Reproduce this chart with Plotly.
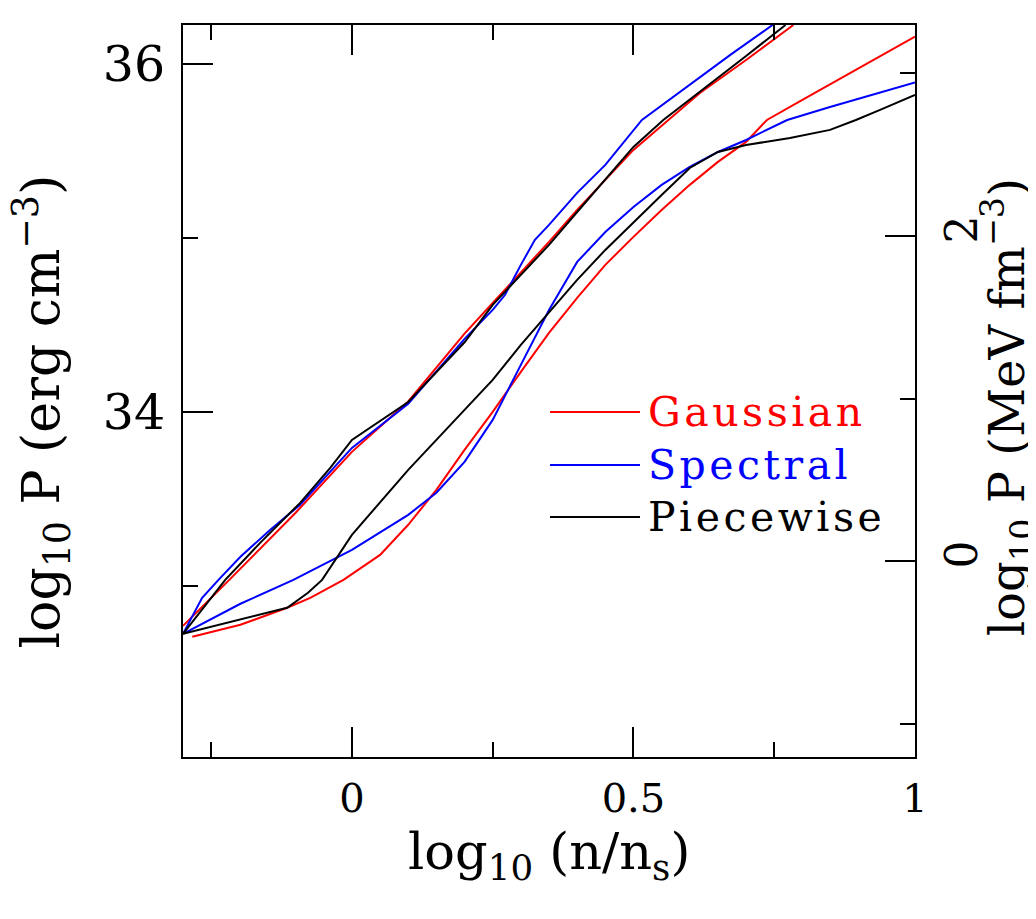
import plotly.graph_objects as go

# ---------------- data (log10 n/ns , log10 P [erg cm^-3]) ----------------
gauss_hi_x = [-0.3, -0.216, -0.1, 0.0, 0.1, 0.2, 0.25, 0.3, 0.35, 0.4, 0.45, 0.5, 0.562, 0.618, 0.7, 0.784]
gauss_hi_y = [32.77, 33.04, 33.42, 33.77, 34.06, 34.45, 34.626, 34.799, 34.977, 35.161, 35.333, 35.506, 35.678, 35.833, 36.023, 36.224]

gauss_lo_x = [-0.2835, -0.198, -0.115, -0.074, -0.015, 0.05, 0.1, 0.15, 0.2, 0.25, 0.3, 0.35, 0.4, 0.45, 0.5, 0.55, 0.6, 0.65, 0.7, 0.737, 0.8, 0.9, 1.0]
gauss_lo_y = [32.707, 32.776, 32.874, 32.931, 33.034, 33.178, 33.351, 33.552, 33.782, 34.0, 34.23, 34.454, 34.655, 34.845, 35.006, 35.161, 35.305, 35.437, 35.552, 35.678, 35.793, 35.977, 36.157]

spec_hi_x = [-0.3, -0.266, -0.237, -0.198, -0.145, -0.092, 0.0, 0.1, 0.2, 0.25, 0.272, 0.3, 0.325, 0.35, 0.4, 0.45, 0.515, 0.6, 0.672, 0.747]
spec_hi_y = [32.724, 32.931, 33.034, 33.167, 33.322, 33.466, 33.793, 34.046, 34.42, 34.586, 34.673, 34.845, 34.989, 35.075, 35.259, 35.42, 35.678, 35.879, 36.052, 36.224]

spec_lo_x = [-0.3, -0.198, -0.104, 0.0, 0.1, 0.15, 0.2, 0.25, 0.3, 0.35, 0.4, 0.45, 0.5, 0.55, 0.6, 0.65, 0.7, 0.773, 0.849, 0.924, 1.0]
spec_lo_y = [32.724, 32.897, 33.034, 33.207, 33.408, 33.535, 33.713, 33.954, 34.27, 34.586, 34.862, 35.034, 35.178, 35.305, 35.408, 35.494, 35.563, 35.678, 35.753, 35.822, 35.893]

piece_hi_x = [-0.3, -0.225, -0.163, -0.092, -0.0385, 0.0, 0.1, 0.2, 0.25, 0.3, 0.35, 0.4, 0.45, 0.5, 0.553, 0.618, 0.7, 0.77]
piece_hi_y = [32.724, 33.034, 33.247, 33.477, 33.678, 33.839, 34.057, 34.40, 34.615, 34.787, 34.96, 35.149, 35.333, 35.523, 35.678, 35.839, 36.046, 36.224]

piece_lo_x = [-0.3, -0.198, -0.115, -0.078, -0.053, 0.0, 0.05, 0.1, 0.15, 0.2, 0.25, 0.3, 0.35, 0.4, 0.45, 0.5, 0.55, 0.6, 0.65, 0.7, 0.778, 0.849, 0.895, 0.938, 1.0]
piece_lo_y = [32.724, 32.805, 32.874, 32.96, 33.034, 33.293, 33.483, 33.667, 33.839, 34.011, 34.184, 34.385, 34.575, 34.759, 34.931, 35.092, 35.247, 35.402, 35.494, 35.534, 35.575, 35.621, 35.678, 35.736, 35.822]

series_names = ["Gaussian", "Spectral", "Piecewise"]
series_colors = ["#ff0000", "#0000ff", "#000000"]

x_tickvals = [0, 0.5, 1]
x_ticktext = ["0", "0.5", "1"]
yl_tickvals = [34, 36]
yl_ticktext = ["34", "36"]
yr_tickvals = [0, 2]
yr_ticktext = ["0", "2"]

X_RANGE = [-0.3, 1.0]
YL_RANGE = [32.016, 36.224]
YR_RANGE = [-1.205, 3.298]

FONT = "DejaVu Serif"

fig = go.Figure()

curves = [
    (gauss_hi_x, gauss_hi_y, 0), (gauss_lo_x, gauss_lo_y, 0),
    (spec_hi_x, spec_hi_y, 1), (spec_lo_x, spec_lo_y, 1),
    (piece_hi_x, piece_hi_y, 2), (piece_lo_x, piece_lo_y, 2),
]
for xs, ys, k in curves:
    fig.add_trace(go.Scatter(x=xs, y=ys, mode="lines", name=series_names[k],
                             line=dict(color=series_colors[k], width=2),
                             showlegend=False, hoverinfo="skip"))

# dummy trace to activate right axis
fig.add_trace(go.Scatter(x=[None], y=[None], yaxis="y2", showlegend=False))

axis_common = dict(ticks="inside", showline=True, linecolor="black", linewidth=2,
                   tickcolor="black", tickwidth=2, showgrid=False, zeroline=False)

fig.update_layout(
    width=1028, height=911,
    margin=dict(l=175, r=121, t=17, b=162),
    paper_bgcolor="white", plot_bgcolor="white",
    showlegend=False,
    xaxis=dict(range=X_RANGE, tickvals=x_tickvals, ticktext=x_ticktext, ticklen=30,
               mirror="ticks", ticklabelstandoff=5,
               tickfont=dict(family=FONT, size=40, color="black"),
               minor=dict(tickvals=[-0.25, 0.25, 0.75], ticklen=15, tickcolor="black",
                          tickwidth=2, ticks="inside", showgrid=False),
               **axis_common),
    yaxis=dict(range=YL_RANGE, tickvals=yl_tickvals, ticktext=yl_ticktext, ticklen=30,
               ticklabelstandoff=6,
               tickfont=dict(family=FONT, size=49, color="black"),
               minor=dict(tickvals=[33, 35], ticklen=15, tickcolor="black",
                          tickwidth=2, ticks="inside", showgrid=False),
               **axis_common),
    yaxis2=dict(range=YR_RANGE, overlaying="y", side="right", anchor="x",
                tickvals=yr_tickvals, ticktext=yr_ticktext, ticklen=30, tickangle=-90,
                ticklabelstandoff=7,
                tickfont=dict(family=FONT, size=44, color="black"),
                minor=dict(tickvals=[-1, 1, 3], ticklen=15, tickcolor="black",
                           tickwidth=2, ticks="inside", showgrid=False),
                **axis_common),
)

fig.add_annotation(text="log<sub>10</sub> (n/n<sub>s</sub>)", xref="paper", yref="paper",
                   x=0.5, y=-0.134, showarrow=False,
                   font=dict(family=FONT, size=51, color="black"),
                   xanchor="center", yanchor="middle")
fig.add_annotation(text="log<sub>10</sub> P (erg cm<sup>−3</sup>)", xref="paper", yref="paper",
                   x=-0.1926, y=0.472, showarrow=False,
                   font=dict(family=FONT, size=52, color="black"), textangle=-90,
                   xanchor="center", yanchor="middle")
fig.add_annotation(text="log<sub>10</sub> P (MeV fm<sup>−3</sup>)", xref="paper", yref="paper",
                   x=1.126, y=0.478, showarrow=False,
                   font=dict(family=FONT, size=48, color="black"), textangle=-90,
                   xanchor="center", yanchor="middle")

# manual legend
leg_rows = [0.4713, 0.3989, 0.3279]
for name, col, yy in zip(series_names, series_colors, leg_rows):
    fig.add_shape(type="line", xref="paper", yref="paper", x0=0.5014, x1=0.6243,
                  y0=yy, y1=yy, line=dict(color=col, width=2))
    fig.add_annotation(text=f"<span style='letter-spacing:3.5px'>{name}</span>",
                       xref="paper", yref="paper", x=0.633, y=yy,
                       showarrow=False, xanchor="left", yanchor="middle",
                       font=dict(family=FONT, size=41, color=col))

fig.write_html("out.html")
